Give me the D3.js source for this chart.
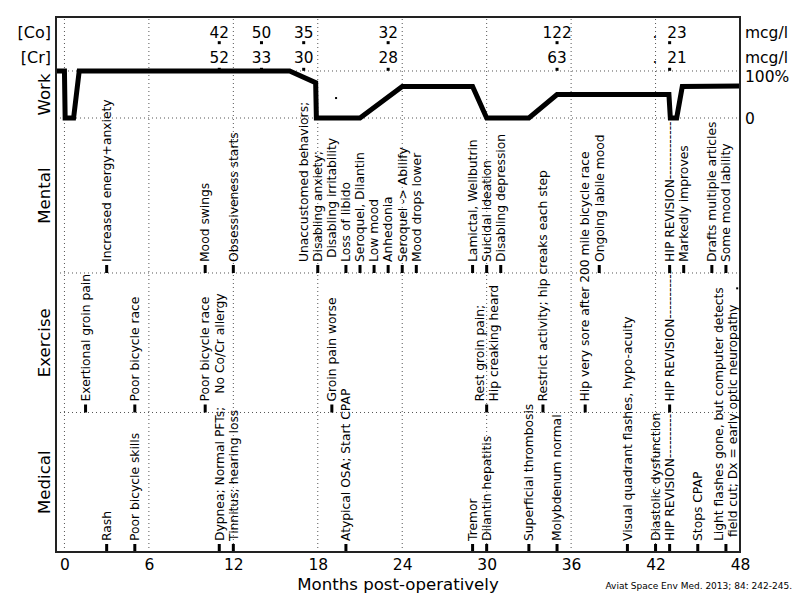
<!DOCTYPE html>
<html>
<head>
<meta charset="utf-8">
<script src="https://cdn.jsdelivr.net/npm/d3@7"></script>
<style>
  body { margin: 0; background: #fff; }
  text { font-family: "DejaVu Sans", sans-serif; fill: #000; }
</style>
</head>
<body>
<svg id="chart" width="800" height="600"></svg>
<script>
// blood levels, months post-op
var labMonths = [11, 14, 17, 23, 35, 43];
var coValues = ["42", "50", "35", "32", "122", ".  23"];
var crValues = ["52", "33", "30", "28", "63", ".  21"];

// fraction of full work load
var workMonths = [-0.6, 0, 0.05, 0.65, 1.05, 16, 17.85, 17.9, 21, 24, 29, 30, 33, 35, 42.95, 43.05, 43.5, 43.9, 48];
var workLevels = [1, 1, 0, 0, 1, 1, 0.75, 0, 0, 0.67, 0.67, 0, 0, 0.5, 0.5, 0, 0, 0.67, 0.68];

// [month, label, has marker]
var mentalEvents = [
  [3, "Increased energy+anxiety"],
  [10, "Mood swings"],
  [12, "Obsessiveness starts"],
  [18, "Unaccustomed behaviors;\nDisabling anxiety;\n Disabling irritability"],
  [20, "Loss of libido"],
  [21, "Seroquel, Dilantin"],
  [22, "Low mood"],
  [23, "Anhedonia"],
  [24, "Seroquel -> Abilify"],
  [25, "Mood drops lower"],
  [29, "Lamictal, Wellbutrin"],
  [30, "Suicidal ideation"],
  [31, "Disabling depression"],
  [38, "Ongoing labile mood"],
  [43, "HIP REVISION-------------"],
  [44, "Markedly improves"],
  [46, "Drafts multiple articles"],
  [47, "Some mood lability"]
];
var exerciseEvents = [
  [1.5, "Exertional groin pain"],
  [5, "Poor bicycle race"],
  [10, "Poor bicycle race"],
  [11, "  No Co/Cr allergy", false],
  [19, "Groin pain worse"],
  [30, "Rest groin pain;\nHip creaking heard"],
  [34, "Restrict activity; hip creaks each step"],
  [37, "Hip very sore after 200 mile bicycle race"],
  [43, "HIP REVISION-----------"]
];
var medicalEvents = [
  [3, "Rash"],
  [5, "Poor bicycle skills"],
  [11, "Dypnea; Normal PFTs;"],
  [12, "Tinnitus; hearing loss"],
  [20, "Atypical OSA; Start CPAP"],
  [29, "Tremor"],
  [30, "Dilantin hepatitis"],
  [33, "Superficial thrombosis"],
  [35, "Molybdenum normal"],
  [40, "Visual quadrant flashes, hypo-acuity"],
  [42, "Diastolic dysfunction"],
  [43, "HIP REVISION----------"],
  [45, "Stops CPAP"],
  [47, "Light flashes gone, but computer detects\n field cut; Dx = early optic neuropathy"]
];
var strayDots = [[19.3, 3.254], [47.8, 1.89]];

var xTicks = [0, 6, 12, 18, 24, 30, 36, 42, 48];
var sectionNames = ["Medical", "Exercise", "Mental"];

var svg = d3.select("#chart");
var x = d3.scaleLinear().domain([-0.6, 48]).range([56, 740]);
var y = d3.scaleLinear().domain([0, 3.835]).range([552, 17]);
var levels = {work0: 3.111, work1: 3.448, cr: 3.46, co: 3.651, top: 3.835};
var work = d3.scaleLinear().domain([0, 1]).range([y(levels.work0), y(levels.work1)]);

// grid
var grid = svg.append("g")
  .attr("stroke", "#555")
  .attr("stroke-width", 1)
  .attr("stroke-dasharray", "1,3");
grid.selectAll("line.v").data(xTicks).join("line")
  .attr("class", "v")
  .attr("x1", d => x(d)).attr("x2", d => x(d))
  .attr("y1", y(0)).attr("y2", y(levels.top));
grid.selectAll("line.h").data([1, 2, levels.work0, levels.work1]).join("line")
  .attr("class", "h")
  .attr("x1", x(-0.6)).attr("x2", x(48))
  .attr("y1", d => y(d)).attr("y2", d => y(d));

// work line
var line = d3.line().x((d, i) => x(workMonths[i])).y(d => work(d));
svg.append("path")
  .datum(workLevels)
  .attr("d", line)
  .attr("fill", "none")
  .attr("stroke", "#000")
  .attr("stroke-width", 5)
  .attr("stroke-linejoin", "miter");

// Co / Cr rows
function labRow(values, level, lift) {
  svg.append("g").selectAll("rect").data(labMonths).join("rect")
    .attr("x", d => x(d) - 1.5).attr("y", y(level) - 1.5)
    .attr("width", 3).attr("height", 3).attr("fill", "#000");
  svg.append("g").selectAll("text").data(labMonths).join("text")
    .attr("x", d => x(d)).attr("y", y(level) - lift)
    .attr("text-anchor", "middle")
    .style("font-size", "15.3px")
    .style("white-space", "pre")
    .text((d, i) => values[i]);
}
labRow(coValues, levels.co, 5);
labRow(crValues, levels.cr, 6);

// event rows
function drawEvents(events, base) {
  var g = svg.append("g");
  events.forEach(function (ev) {
    var px = x(ev[0]);
    if (ev[2] !== false) {
      g.append("rect")
        .attr("x", px - 1.5).attr("y", y(base) - 8)
        .attr("width", 3).attr("height", 8)
        .attr("fill", "#000");
    }
    var lines = ev[1].split("\n");
    var t = g.append("g").attr("transform", "translate(" + px + "," + (y(base) - 11) + ") rotate(-90)");
    lines.forEach(function (s, i) {
      t.append("text")
        .attr("y", (i - (lines.length - 1) / 2) * 14)
        .attr("dy", "0.35em")
        .style("font-size", "12.3px")
        .style("white-space", "pre")
        .text(s);
    });
  });
}
drawEvents(mentalEvents, 2);
drawEvents(exerciseEvents, 1);
drawEvents(medicalEvents, 0);

svg.append("g").selectAll("rect").data(strayDots).join("rect")
  .attr("x", d => x(d[0]) - 1).attr("y", d => y(d[1]) - 1)
  .attr("width", 2).attr("height", 2).attr("fill", "#000");

// frame
svg.append("rect")
  .attr("x", x(-0.6)).attr("y", y(levels.top))
  .attr("width", x(48) - x(-0.6)).attr("height", y(0) - y(levels.top))
  .attr("fill", "none").attr("stroke", "#222").attr("stroke-width", 2);

// x axis
var axis = svg.append("g")
  .attr("transform", "translate(0," + y(0) + ")")
  .call(d3.axisBottom(x).tickValues(xTicks).tickSize(0).tickPadding(7));
axis.select(".domain").remove();
axis.selectAll("text")
  .style("font-family", "DejaVu Sans, sans-serif")
  .style("font-size", "15.5px")
  .attr("fill", "#000");

svg.append("text")
  .attr("x", (x(-0.6) + x(48)) / 2).attr("y", 590)
  .attr("text-anchor", "middle")
  .style("font-size", "16.6px")
  .text("Months post-operatively");

// left labels
svg.append("text").attr("x", 51).attr("y", y(levels.co) - 5)
  .attr("text-anchor", "end").style("font-size", "16px").text("[Co]");
svg.append("text").attr("x", 51).attr("y", y(levels.cr) - 6)
  .attr("text-anchor", "end").style("font-size", "16px").text("[Cr]");

var rowMid = [[0.5, "Medical"], [1.5, "Exercise"], [2.555, "Mental"], [(levels.work0 + levels.work1) / 2, "Work"]];
rowMid.forEach(function (r, i) {
  svg.append("text")
    .attr("transform", "translate(44," + y(r[0]) + ") rotate(-90)")
    .attr("text-anchor", "middle")
    .attr("dy", "0.35em")
    .style("font-size", "16.6px")
    .text(i < 3 ? sectionNames[i] : r[1]);
});

// right labels
svg.append("text").attr("x", 745).attr("y", y(levels.co) - 5)
  .style("font-size", "15.5px").text("mcg/l");
svg.append("text").attr("x", 745).attr("y", y(levels.cr) - 6)
  .style("font-size", "15.5px").text("mcg/l");
svg.append("text").attr("x", 745).attr("y", work(1) + 11)
  .style("font-size", "15.5px").text("100%");
svg.append("text").attr("x", 745).attr("y", work(0) + 5.5)
  .style("font-size", "15.5px").text("0");

svg.append("text")
  .attr("x", 792).attr("y", 589)
  .attr("text-anchor", "end")
  .style("font-size", "9px")
  .text("Aviat Space Env Med. 2013; 84: 242-245.");
</script>
</body>
</html>
